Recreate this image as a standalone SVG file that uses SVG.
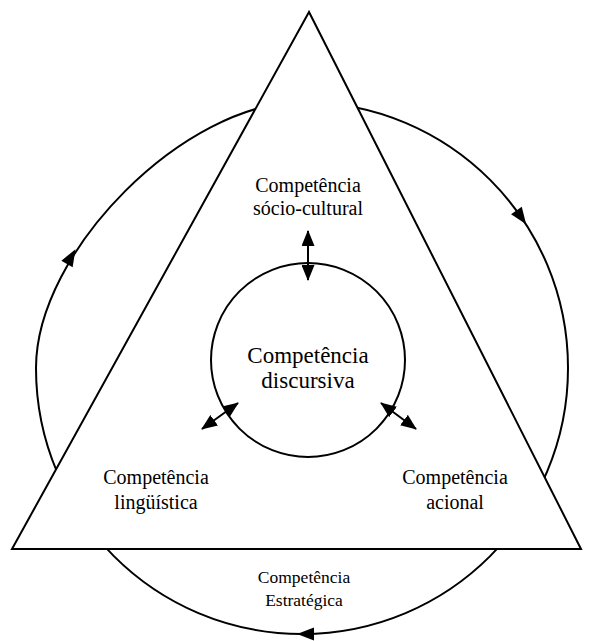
<svg xmlns="http://www.w3.org/2000/svg" width="596" height="641" viewBox="0 0 596 641">
<style>
.ln{fill:none;stroke:#000;stroke-width:2}
.sh{fill:#fff;stroke:#000;stroke-width:2}
.t{font-family:"Liberation Serif","Times New Roman",serif;fill:#000;text-anchor:middle}
.s{font-size:20px}
.b{font-size:23px}
.e{font-size:17.5px}
.ah{fill:#000}
</style>
<defs>
<marker id="ah" viewBox="0 0 16 13" refX="15" refY="6.5" markerWidth="16" markerHeight="13" orient="auto-start-reverse" markerUnits="userSpaceOnUse">
<path d="M0,0 L16,6.5 L0,13 z" fill="#000"/>
</marker>
</defs>
<g id="outer-cycle">
<path class="ln" d="M36,368 C36,251 185,102 302,102 C449,102 568,221 568,368 C568,515 449,634 302,634 C155,634 36,515 36,368 Z"/>
</g>
<g id="triangle">
<polygon class="sh" points="309,12 12,549 581,549"/>
</g>
<g id="discursiva">
<circle class="ln" cx="308" cy="360" r="97"/>
<text class="t b" x="308" y="363">Competência</text>
<text class="t b" x="308" y="388">discursiva</text>
</g>
<g id="socio-cultural">
<text class="t s" x="308" y="192">Competência</text>
<text class="t s" x="308" y="215">sócio-cultural</text>
</g>
<g id="linguistica">
<text class="t s" x="156" y="484">Competência</text>
<text class="t s" x="156" y="509">lingüística</text>
</g>
<g id="acional">
<text class="t s" x="455" y="484">Competência</text>
<text class="t s" x="455" y="509">acional</text>
</g>
<g id="estrategica">
<text class="t e" x="304" y="583">Competência</text>
<text class="t e" x="304" y="606">Estratégica</text>
</g>
<g id="connectors">
<line class="ln" x1="308" y1="231" x2="308" y2="280" marker-start="url(#ah)" marker-end="url(#ah)"/>
<line class="ln" x1="202" y1="429" x2="238" y2="403" marker-start="url(#ah)" marker-end="url(#ah)"/>
<line class="ln" x1="381" y1="403" x2="416" y2="429" marker-start="url(#ah)" marker-end="url(#ah)"/>
<polygon class="ah" points="-8,-6.5 9,0 -8,6.5" transform="translate(71,257) rotate(-60)"/>
<polygon class="ah" points="-8,-6.5 9,0 -8,6.5" transform="translate(521,217) rotate(55)"/>
<polygon class="ah" points="-8,-6.5 9,0 -8,6.5" transform="translate(306,634) rotate(180)"/>
</g>
</svg>
